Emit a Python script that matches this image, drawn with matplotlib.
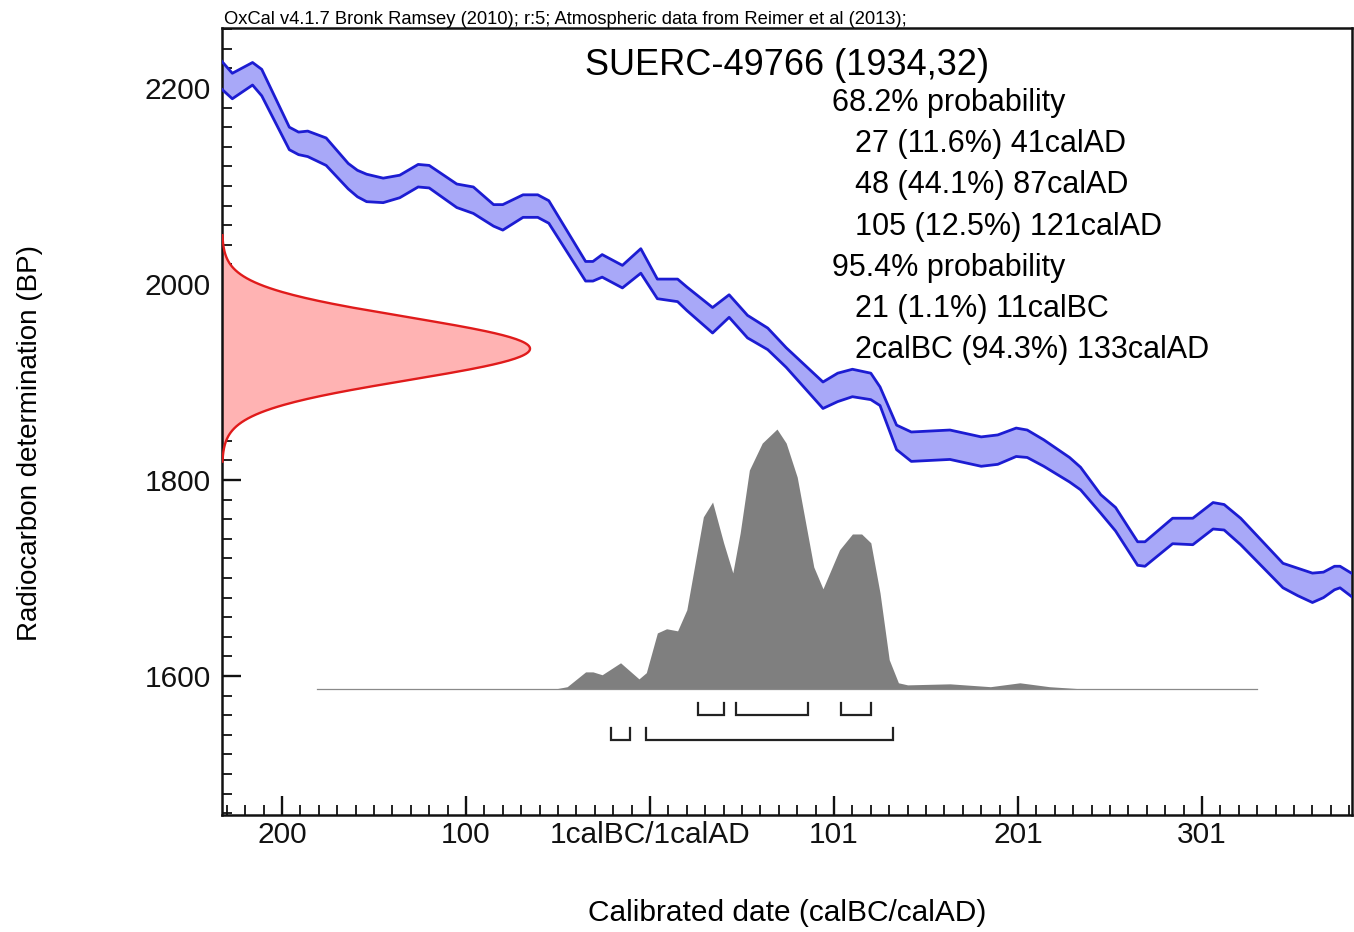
import numpy as np
import matplotlib
matplotlib.use("Agg")
import matplotlib.pyplot as plt
from matplotlib.ticker import FixedLocator

plt.rcParams['font.family'] = ['Liberation Sans', 'DejaVu Sans']

# Sample measurement
sample_name = "SUERC-49766"
c14_age = 1934
c14_err = 32

# Calibration curve (astronomical years; +/- 1 sigma envelope, BP)
cal_year = [-233, -226, -215, -210, -195, -190, -185, -175, -163, -158,
            -153, -144, -135, -125, -119, -104, -95, -84, -79, -68,
            -60, -54, -34, -30, -25, -14, -4, 5, 16, 21,
            35, 44, 54, 65, 75, 95, 103, 111, 121, 126,
            135, 143, 164, 181, 190, 200, 206, 215, 229, 235,
            246, 254, 266, 270, 285, 296, 307, 313, 322, 345,
            353, 361, 367, 373, 376, 383]
cal_upper = [2230, 2215, 2226, 2219, 2160, 2155, 2156, 2149, 2123, 2116,
             2112, 2108, 2111, 2122, 2121, 2102, 2099, 2081, 2081, 2091,
             2091, 2085, 2023, 2023, 2030, 2019, 2036, 2005, 2005, 1997,
             1976, 1989, 1968, 1955, 1935, 1900, 1909, 1913, 1909, 1895,
             1856, 1849, 1851, 1844, 1846, 1853, 1851, 1841, 1823, 1813,
             1785, 1772, 1737, 1737, 1761, 1761, 1777, 1775, 1761, 1715,
             1710, 1705, 1706, 1712, 1712, 1704]
cal_lower = [2201, 2189, 2203, 2192, 2137, 2132, 2130, 2121, 2097, 2089,
             2084, 2083, 2088, 2099, 2098, 2078, 2072, 2059, 2055, 2068,
             2068, 2062, 2003, 2003, 2007, 1996, 2011, 1985, 1982, 1973,
             1950, 1966, 1945, 1933, 1915, 1873, 1880, 1885, 1882, 1876,
             1831, 1819, 1821, 1814, 1816, 1824, 1823, 1814, 1798, 1790,
             1766, 1748, 1713, 1712, 1735, 1734, 1750, 1749, 1734, 1690,
             1682, 1675, 1680, 1688, 1690, 1680]

# Calibrated probability distribution (relative)
post_year = [-180, -50, -44, -34, -30, -25, -15, -10, -5, -1,
             5, 10, 16, 21, 30, 35, 41, 46, 50, 55,
             62, 70, 75, 81, 90, 95, 104, 111, 116, 121,
             126, 131, 136, 141, 164, 186, 202, 218, 235, 331]
post_rel = [0, 0, 0.008, 0.065, 0.065, 0.054, 0.10, 0.069, 0.038, 0.062,
            0.215, 0.231, 0.223, 0.304, 0.662, 0.719, 0.562, 0.446, 0.60, 0.842,
            0.946, 1.0, 0.946, 0.815, 0.469, 0.385, 0.535, 0.596, 0.596, 0.562,
            0.369, 0.112, 0.023, 0.015, 0.019, 0.008, 0.023, 0.008, 0, 0]

# Highest probability density ranges (astronomical years)
hpd68_start = [27, 48, 105]
hpd68_end = [41, 87, 121]
hpd68_pct = [11.6, 44.1, 12.5]
hpd95_start = [-20, -1]
hpd95_end = [-10, 133]
hpd95_pct = [1.1, 94.3]

# Axis ticks
x_major = [-199, -99, 1, 101, 201, 301]
x_labels = ["200", "100", "1calBC/1calAD", "101", "201", "301"]
y_major = [1600, 1800, 2000, 2200]

header = ("OxCal v4.1.7 Bronk Ramsey (2010); r:5; "
          "Atmospheric data from Reimer et al (2013);")

W, H = 1354, 932
fig = plt.figure(figsize=(W / 100, H / 100), dpi=100)
ax = fig.add_axes([222 / W, 117 / H, 1130 / W, 787 / H])
xmin, xmax = -231.6, 382.5
ymin, ymax = 1458.2, 2261.2
ax.set_xlim(xmin, xmax)
ax.set_ylim(ymin, ymax)

# Calibration curve band
ax.fill_between(cal_year, cal_lower, cal_upper, color="#a8a8f8", lw=0, zorder=2)
ax.plot(cal_year, cal_upper, color="#1c1cd2", lw=2.0, zorder=3,
        solid_joinstyle="round")
ax.plot(cal_year, cal_lower, color="#1c1cd2", lw=2.0, zorder=3,
        solid_joinstyle="round")

# Radiocarbon measurement on the y axis
bp = np.arange(c14_age - 3.6 * c14_err, c14_age + 3.6 * c14_err + 1, 1.0)
dens = np.exp(-0.5 * ((bp - c14_age) / c14_err) ** 2)
span = 0.2726 * (xmax - xmin)
ax.fill_betweenx(bp, xmin, xmin + span * dens, color="#ffb3b3", lw=0, zorder=2)
ax.plot(xmin + span * dens, bp, color="#e01b1b", lw=1.7, zorder=3)

# Calibrated distribution
base, height = 1587, 265
post_rel = np.array(post_rel)
ax.fill_between(post_year, base, base + height * post_rel, color="#7f7f7f",
                lw=0, zorder=2)
ax.plot([post_year[0], post_year[-1]], [base, base], color="#8a8a8a", lw=0.9,
        zorder=2)

# Range brackets
def bracket(starts, ends, level, tick):
    for a, b in zip(starts, ends):
        ax.plot([a, a, b, b], [level + tick, level, level, level + tick],
                color="#222222", lw=1.6, solid_joinstyle="miter", zorder=3)

bracket(hpd68_start, hpd68_end, 1560, 12)
bracket(hpd95_start, hpd95_end, 1535, 12)

# Axes styling
for s in ax.spines.values():
    s.set_linewidth(1.8)
    s.set_color("#111111")
ax.xaxis.set_major_locator(FixedLocator(x_major))
ax.set_xticklabels(x_labels)
ax.xaxis.set_minor_locator(FixedLocator(np.arange(-229, 382, 10)))
ax.yaxis.set_major_locator(FixedLocator(y_major))
ax.yaxis.set_minor_locator(FixedLocator(np.arange(1460, 2261, 20)))
ax.tick_params(which="both", direction="in", top=False, right=False,
               labelsize=21.5, colors="#111111")
ax.tick_params(which="major", length=14, width=1.7)
ax.tick_params(which="minor", length=7, width=1.3)
ax.tick_params(axis="y", which="major", pad=8)
ax.tick_params(axis="x", which="major", pad=4)

# Labels
fig.text(30 / W, 1 - 443 / H, "Radiocarbon determination (BP)", rotation=90,
         fontsize=20, ha="center", va="center")
fig.text(787 / W, 1 - 913 / H, "Calibrated date (calBC/calAD)",
         fontsize=21.5, ha="center", va="center")
fig.text(224 / W, 1 - 24 / H, header, fontsize=13.2, ha="left", va="baseline",
         family=["Liberation Sans Narrow", "Liberation Sans"])
fig.text(787 / W, 1 - 75 / H, f"{sample_name} ({c14_age},{c14_err})",
         fontsize=26, ha="center", va="baseline")


def era(y):
    return ("calAD", y) if y > 0 else ("calBC", 1 - y)


def range_label(a, b, pct):
    ea, na = era(a)
    eb, nb = era(b)
    left = f"{na}" if ea == eb else f"{na}{ea}"
    return f"{left} ({pct}%) {nb}{eb}"


lines = [("68.2% probability", 832)]
lines += [(range_label(a, b, p), 855) for a, b, p in zip(hpd68_start, hpd68_end, hpd68_pct)]
lines += [("95.4% probability", 832)]
lines += [(range_label(a, b, p), 855) for a, b, p in zip(hpd95_start, hpd95_end, hpd95_pct)]
for i, (txt, xpx) in enumerate(lines):
    fig.text(xpx / W, 1 - (111 + 41.2 * i) / H, txt, fontsize=22,
             ha="left", va="baseline")

fig.savefig("out.png", dpi=100)
